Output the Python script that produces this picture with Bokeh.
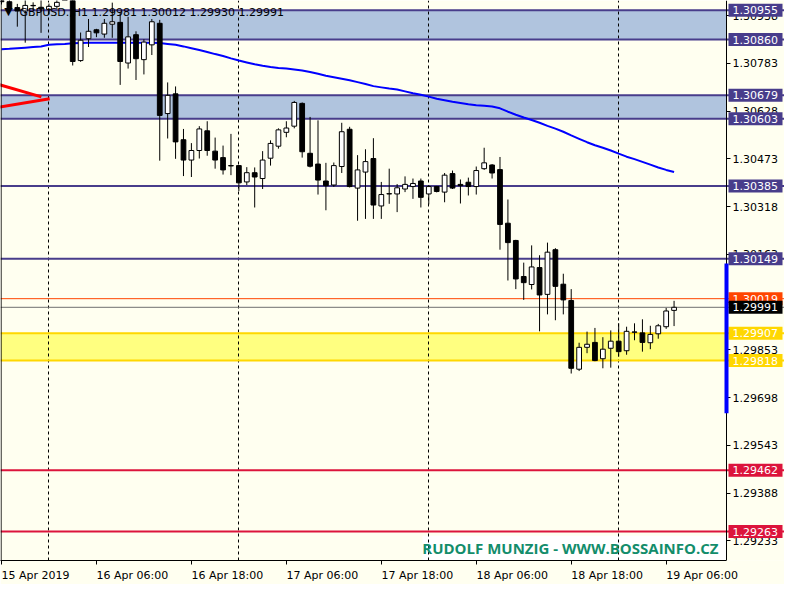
from bokeh.plotting import figure
from bokeh.models import (Span, BoxAnnotation, Label, FixedTicker, PrintfTickFormatter,
                          Range1d, ColumnDataSource)
from bokeh.core.properties import value
from bokeh.embed import file_html
from bokeh.resources import INLINE

# ---------------- data (GBPUSD H1, bar index 0 = 15 Apr 2019 18:00) ----------------
BAR = list(range(86))
OPEN = [1.30993, 1.30983, 1.30964, 1.30953, 1.30971, 1.30965, 1.30958, 1.30968, 1.30996, 1.31018,
        1.30792, 1.30863, 1.30892, 1.30878, 1.30910, 1.30916, 1.30784, 1.30876, 1.30795, 1.30843,
        1.30913, 1.30620, 1.30684, 1.30535, 1.30469, 1.30500, 1.30564, 1.30498, 1.30477, 1.30451,
        1.30451, 1.30398, 1.30428, 1.30409, 1.30475, 1.30514, 1.30559, 1.30579, 1.30653, 1.30491,
        1.30456, 1.30401, 1.30388, 1.30448, 1.30569, 1.30378, 1.30430, 1.30474, 1.30320, 1.30359,
        1.30359, 1.30375, 1.30383, 1.30401, 1.30359, 1.30383, 1.30365, 1.30425, 1.30390, 1.30397,
        1.30383, 1.30441, 1.30453, 1.30438, 1.30264, 1.30208, 1.30091, 1.30065, 1.30120, 1.30033,
        1.30178, 1.30066, 1.30013, 1.29790, 1.29861, 1.29877, 1.29824, 1.29858, 1.29881, 1.29850,
        1.29910, 1.29908, 1.29876, 1.29905, 1.29928, 1.29981]
HIGH = [1.31012, 1.30999, 1.30976, 1.30996, 1.30981, 1.30993, 1.30977, 1.30996, 1.31034, 1.31031,
        1.30883, 1.30927, 1.30895, 1.30927, 1.30980, 1.30949, 1.30934, 1.30887, 1.30861, 1.30927,
        1.30924, 1.30721, 1.30708, 1.30570, 1.30524, 1.30579, 1.30595, 1.30542, 1.30516, 1.30554,
        1.30453, 1.30446, 1.30445, 1.30498, 1.30533, 1.30572, 1.30595, 1.30661, 1.30656, 1.30609,
        1.30598, 1.30460, 1.30461, 1.30590, 1.30577, 1.30485, 1.30504, 1.30540, 1.30398, 1.30441,
        1.30391, 1.30416, 1.30409, 1.30409, 1.30388, 1.30385, 1.30427, 1.30435, 1.30406, 1.30412,
        1.30448, 1.30509, 1.30456, 1.30479, 1.30341, 1.30210, 1.30136, 1.30192, 1.30160, 1.30201,
        1.30183, 1.30100, 1.30050, 1.29876, 1.29912, 1.29924, 1.29894, 1.29916, 1.29939, 1.29928,
        1.29939, 1.29952, 1.29931, 1.29937, 1.29989, 1.30012]
LOW = [1.30974, 1.30949, 1.30902, 1.30850, 1.30955, 1.30882, 1.30942, 1.30958, 1.30990, 1.30776,
       1.30788, 1.30836, 1.30868, 1.30866, 1.30866, 1.30713, 1.30766, 1.30729, 1.30747, 1.30810,
       1.30467, 1.30539, 1.30473, 1.30417, 1.30414, 1.30474, 1.30483, 1.30441, 1.30422, 1.30420,
       1.30368, 1.30388, 1.30315, 1.30375, 1.30451, 1.30506, 1.30543, 1.30572, 1.30477, 1.30445,
       1.30357, 1.30306, 1.30382, 1.30427, 1.30380, 1.30272, 1.30278, 1.30278, 1.30278, 1.30327,
       1.30300, 1.30365, 1.30343, 1.30315, 1.30325, 1.30364, 1.30332, 1.30375, 1.30328, 1.30354,
       1.30357, 1.30437, 1.30409, 1.30178, 1.30078, 1.30050, 1.30015, 1.30049, 1.29913, 1.29968,
       1.29949, 1.29968, 1.29776, 1.29784, 1.29842, 1.29816, 1.29793, 1.29795, 1.29831, 1.29837,
       1.29884, 1.29847, 1.29855, 1.29889, 1.29921, 1.29930]
CLOSE = [1.30983, 1.30961, 1.30953, 1.30971, 1.30970, 1.30960, 1.30968, 1.30981, 1.31024, 1.30789,
         1.30858, 1.30887, 1.30882, 1.30913, 1.30918, 1.30789, 1.30869, 1.30798, 1.30852, 1.30918,
         1.30614, 1.30679, 1.30528, 1.30469, 1.30500, 1.30570, 1.30500, 1.30469, 1.30437, 1.30450,
         1.30395, 1.30428, 1.30414, 1.30469, 1.30523, 1.30567, 1.30573, 1.30656, 1.30496, 1.30449,
         1.30404, 1.30386, 1.30451, 1.30561, 1.30383, 1.30437, 1.30464, 1.30323, 1.30357, 1.30360,
         1.30379, 1.30390, 1.30393, 1.30348, 1.30383, 1.30367, 1.30420, 1.30378, 1.30386, 1.30383,
         1.30435, 1.30460, 1.30427, 1.30260, 1.30201, 1.30083, 1.30071, 1.30122, 1.30031, 1.30170,
         1.30059, 1.30015, 1.29793, 1.29861, 1.29871, 1.29818, 1.29855, 1.29881, 1.29847, 1.29913,
         1.29911, 1.29877, 1.29903, 1.29931, 1.29979, 1.29991]
MA = [1.30829, 1.30830, 1.30832, 1.30834, 1.30836, 1.30838, 1.30843, 1.30845, 1.30846, 1.30848,
      1.30849, 1.30850, 1.30850, 1.30850, 1.30850, 1.30850, 1.30850, 1.30850, 1.30850, 1.30850,
      1.30849, 1.30846, 1.30843, 1.30838, 1.30832, 1.30826, 1.30820, 1.30813, 1.30807, 1.30799,
      1.30792, 1.30786, 1.30780, 1.30775, 1.30771, 1.30768, 1.30766, 1.30763, 1.30760, 1.30755,
      1.30749, 1.30743, 1.30738, 1.30733, 1.30728, 1.30722, 1.30716, 1.30709, 1.30705, 1.30701,
      1.30698, 1.30692, 1.30686, 1.30681, 1.30675, 1.30668, 1.30663, 1.30658, 1.30654, 1.30650,
      1.30647, 1.30645, 1.30643, 1.30637, 1.30626, 1.30616, 1.30607, 1.30599, 1.30590, 1.30580,
      1.30571, 1.30561, 1.30549, 1.30538, 1.30527, 1.30517, 1.30509, 1.30500, 1.30490, 1.30480,
      1.30472, 1.30463, 1.30454, 1.30445, 1.30437, 1.30430]

TIME_TICK_BARS = [0, 12, 24, 36, 48, 60, 72, 84]
TIME_TICK_LABELS = ["15 Apr 2019", "16 Apr 06:00", "16 Apr 18:00", "17 Apr 06:00",
                    "17 Apr 18:00", "18 Apr 06:00", "18 Apr 18:00", "19 Apr 06:00"]
DAY_SEP_BARS = [6, 30, 54, 78]
PRICE_TICKS = [1.30938, 1.30783, 1.30628, 1.30473, 1.30318, 1.30163, 1.30008,
               1.29853, 1.29698, 1.29543, 1.29388, 1.29233]

BLUE_ZONE_TOP = [1.30955, 1.30679]
BLUE_ZONE_BOTTOM = [1.30860, 1.30603]
YELLOW_ZONE_TOP = [1.29907]
YELLOW_ZONE_BOTTOM = [1.29818]
RES_LEVELS = [1.30955, 1.30860, 1.30679, 1.30603, 1.30385, 1.30149]
SUP_LEVELS = [1.29907, 1.29818]
RED_LEVELS = [1.29462, 1.29263]
ASK = 1.30019
BID = 1.29991
TREND_X0 = [-1.0, -1.0]
TREND_Y0 = [1.30719, 1.30638]
TREND_X1 = [5.04, 6.09]
TREND_Y1 = [1.30674, 1.30668]
RANGE_BAR_TOP = 1.30133
RANGE_BAR_BOTTOM = 1.29647

SYMBOL = "GBPUSD.,H1"
WATERMARK = "RUDOLF MUNZIG - WWW.BOSSAINFO.CZ"

# ---------------- layout ----------------
BG = "#FFFFF0"
RES_C, SUP_C, RED_C = "#483D8B", "#FFD700", "#DC143C"
W, H = 784, 584
BB = 20
PLOT_W = 726                      # width of the candle area in px
FH = H - BB
XMIN, XPLOT = -0.125, 91.625      # candle area in bar units
PPB = PLOT_W / (XPLOT - XMIN)
XEND = XMIN + W / PPB             # frame also holds the price scale
YMIN, YMAX = 1.29169, 1.30987
PPY = FH / (YMAX - YMIN)
FONT = "DejaVu Sans"

p = figure(width=W, height=H, output_backend="svg", toolbar_location=None,
           x_range=Range1d(XMIN, XEND), y_range=Range1d(YMIN, YMAX),
           y_axis_location="right", min_border_left=0, min_border_top=0,
           min_border_right=0, min_border_bottom=BB,
           background_fill_color=BG, border_fill_color=BG, outline_line_color=None)

# zones (below grid)
for t, b in zip(BLUE_ZONE_TOP, BLUE_ZONE_BOTTOM):
    p.add_layout(BoxAnnotation(top=t, bottom=b, right=XPLOT, fill_color="#B0C4DE", fill_alpha=1,
                               line_color=None, level="image"))
for t, b in zip(YELLOW_ZONE_TOP, YELLOW_ZONE_BOTTOM):
    p.add_layout(BoxAnnotation(top=t, bottom=b, right=XPLOT, fill_color="#FFFF80", fill_alpha=1,
                               line_color=None, level="image"))
# watermark box
p.add_layout(BoxAnnotation(left=XPLOT - 304 / PPB, right=XPLOT, bottom=YMIN, top=YMIN + 25 / PPY,
                           fill_color="white", fill_alpha=1, line_color=None, level="image"))

# grid
p.ygrid.visible = False
p.xgrid.ticker = FixedTicker(ticks=DAY_SEP_BARS)
p.xgrid.grid_line_color = "black"
p.xgrid.grid_line_dash = "3 3"
p.xgrid.grid_line_width = 1

# level lines
for lv in RES_LEVELS:
    p.add_layout(Span(location=lv, dimension="width", line_color=RES_C, line_width=2, level="underlay"))
for lv in SUP_LEVELS:
    p.add_layout(Span(location=lv, dimension="width", line_color=SUP_C, line_width=2, level="underlay"))
for lv in RED_LEVELS:
    p.add_layout(Span(location=lv, dimension="width", line_color=RED_C, line_width=2, level="underlay"))
p.add_layout(Span(location=ASK, dimension="width", line_color="#FF4500", line_width=1, level="underlay"))
p.add_layout(Span(location=BID, dimension="width", line_color="#707070", line_width=1, level="underlay"))

# left border of the chart window
p.add_layout(Span(location=XMIN + 0.6 / PPB, dimension="height", line_color="black", line_width=1))

# trend lines
p.segment(x0=TREND_X0, y0=TREND_Y0, x1=TREND_X1, y1=TREND_Y1, line_color="#FF0000", line_width=3)

# moving average
p.line(BAR, MA, line_color="#0000FF", line_width=2)

# candles
up = [c >= o for o, c in zip(OPEN, CLOSE)]
src = ColumnDataSource(dict(
    x=BAR, high=HIGH, low=LOW,
    top=[max(o, c) for o, c in zip(OPEN, CLOSE)],
    bottom=[min(o, c) for o, c in zip(OPEN, CLOSE)],
    fill=["white" if u else "black" for u in up],
))
p.segment(x0="x", y0="high", x1="x", y1="low", source=src, line_color="black", line_width=1)
p.vbar(x="x", width=0.6, top="top", bottom="bottom", fill_color="fill", line_color="black",
       line_width=1, source=src)

# axes
xa = p.xaxis[0]
half = [34] + [36] * (len(TIME_TICK_BARS) - 1)
centers = [round(b + h / PPB, 3) for b, h in zip(TIME_TICK_BARS, half)]
xa.ticker = FixedTicker(ticks=centers, minor_ticks=TIME_TICK_BARS)
xa.major_label_overrides = {c: lab for c, lab in zip(centers, TIME_TICK_LABELS)}
xa.bounds = (XMIN, XPLOT)
xa.major_tick_line_color = None
xa.major_tick_out = 0
xa.major_tick_in = 0
xa.minor_tick_out = 4
xa.minor_tick_in = 0
xa.minor_tick_line_color = "black"
xa.major_label_standoff = 4
xa.axis_line_color = "black"
xa.major_label_text_font = FONT
xa.major_label_text_font_size = "11px"
xa.major_label_text_color = "black"

ya = p.yaxis[0]
ya.ticker = FixedTicker(ticks=PRICE_TICKS)
ya.formatter = PrintfTickFormatter(format="%.5f")
ya.fixed_location = XPLOT
ya.major_tick_out = 4
ya.major_tick_in = 0
ya.minor_tick_out = 0
ya.minor_tick_in = 0
ya.major_label_standoff = 2
ya.axis_line_color = "black"
ya.major_label_text_font = FONT
ya.major_label_text_font_size = "11px"
ya.major_label_text_color = "black"

# range bar on the price scale
p.add_layout(BoxAnnotation(left=XPLOT - 2 / PPB, right=XPLOT + 2 / PPB, top=RANGE_BAR_TOP,
                           bottom=RANGE_BAR_BOTTOM, fill_color="#0000FF", fill_alpha=1,
                           line_color=None, level="overlay"))

# price tags on the scale (drawn above the axis labels)
TAG_PRICES = RES_LEVELS + [ASK, BID] + SUP_LEVELS + RED_LEVELS
TAG_COLORS = [RES_C] * len(RES_LEVELS) + ["#FF4500", "#000000"] + [SUP_C] * len(SUP_LEVELS) \
    + [RED_C] * len(RED_LEVELS)
for pr, col in zip(TAG_PRICES, TAG_COLORS):
    p.rect(x=[XPLOT + 29 / PPB], y=[pr], width=54, height=13, width_units="screen",
           height_units="screen", fill_color=col, line_color=None, level="overlay")
    p.text(x=[XPLOT + 6 / PPB], y=[pr], text=["%.5f" % pr], text_align="left",
           text_baseline="middle", text_font=value(FONT), text_font_size=value("11px"),
           text_color="white", level="overlay")

# header
p.add_layout(Label(x=XMIN + 19 / PPB, y=YMAX - 12.5 / PPY,
                   text="%s  %.5f %.5f %.5f %.5f" % (SYMBOL, OPEN[-1], HIGH[-1], LOW[-1], CLOSE[-1]),
                   text_align="left", text_baseline="middle", text_font=FONT,
                   text_font_size="11px", text_color="black"))
p.add_layout(Label(x=XMIN + 8 / PPB, y=YMAX - 11 / PPY, text="\u25BC", text_align="center",
                   text_baseline="middle", text_font=FONT, text_font_size="11px",
                   text_color="black"))

# watermark
p.add_layout(Label(x=XPLOT - 8 / PPB, y=YMIN + 13 / PPY, text=WATERMARK, text_align="right",
                   text_baseline="middle", text_font="Open Sans", text_font_style="bold",
                   text_font_size="15px", text_color="#138D6B"))

open("out.html", "w").write(file_html(p, INLINE))
